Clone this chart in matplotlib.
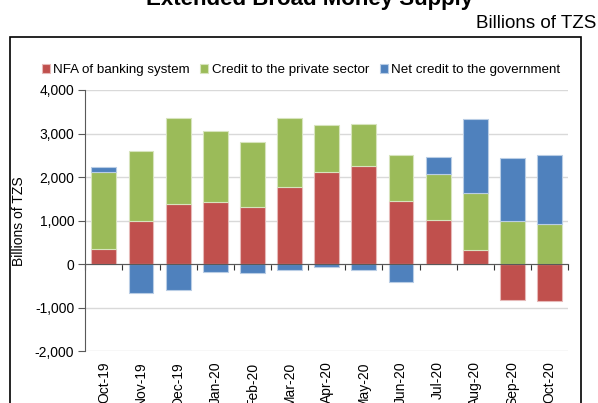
import matplotlib
matplotlib.use('Agg')
import matplotlib.pyplot as plt
import matplotlib.transforms as mtransforms
from matplotlib.patches import Rectangle
import numpy as np

plt.rcParams['font.family'] = ['Liberation Sans', 'DejaVu Sans']

months = ['Oct-19', 'Nov-19', 'Dec-19', 'Jan-20', 'Feb-20', 'Mar-20', 'Apr-20',
          'May-20', 'Jun-20', 'Jul-20', 'Aug-20', 'Sep-20', 'Oct-20']

# contributions in billions of TZS
nfa = [350, 995, 1385, 1430, 1315, 1765, 2110, 2250, 1450, 1015, 335, -825, -850]
private_credit = [1770, 1595, 1980, 1635, 1485, 1600, 1080, 970, 1050, 1050, 1295, 995, 930]
gov_credit = [105, -665, -600, -185, -205, -140, -70, -140, -415, 390, 1700, 1440, 1570]

series = [
    ('NFA of banking system', nfa, '#C0504D', '#E6B9B8'),
    ('Credit to the private sector', private_credit, '#9BBB59', '#D7E4BD'),
    ('Net credit to the government', gov_credit, '#4F81BD', '#B9CDE5'),
]

fig = plt.figure(figsize=(5.98, 4.03), dpi=100)
ax = fig.add_axes([0.1427, 0.1278, 0.8073, 0.6489])

x = np.arange(len(months))
pos_base = np.zeros(len(months))
neg_base = np.zeros(len(months))
for name, vals, color, edge in series:
    v = np.array(vals, dtype=float)
    bottom = np.where(v >= 0, pos_base, neg_base)
    ax.bar(x, v, width=0.67, bottom=bottom, color=color, edgecolor=edge,
           linewidth=0.8, label=name, zorder=3)
    pos_base += np.where(v >= 0, v, 0)
    neg_base += np.where(v < 0, v, 0)

ax.set_xlim(-0.5, len(months) - 0.5)
ax.set_ylim(-2000, 4000)
ax.set_yticks(range(-2000, 4001, 1000))
ax.set_yticklabels(['{:,}'.format(t) for t in range(-2000, 4001, 1000)], fontsize=10)
ax.yaxis.grid(True, color='#D9D9D9', linewidth=1, zorder=0)
ax.set_axisbelow(True)
ax.set_ylabel('Billions of TZS', fontsize=10, labelpad=6)

for s in ['top', 'right']:
    ax.spines[s].set_visible(False)
ax.spines['left'].set_color('#595959')
ax.spines['bottom'].set_position(('data', 0))
ax.spines['bottom'].set_color('#595959')
ax.spines['bottom'].set_zorder(4)
ax.tick_params(axis='y', direction='out', length=5, color='#595959', pad=3)

# category boundary ticks on the zero line, labels below the plot
ax.set_xticks(np.arange(-0.5, len(months), 1.0))
ax.set_xticklabels([])
ax.tick_params(axis='x', direction='out', length=4, color='#333333')
trans = mtransforms.blended_transform_factory(ax.transData, ax.transAxes)
for i, m in enumerate(months):
    ax.text(i, -0.038, m, transform=trans, rotation=90, ha='center', va='top',
            fontsize=10)

fig.legend(loc='center', bbox_to_anchor=(0.503, 0.826), ncol=3, frameon=False,
           fontsize=9.6, handlelength=0.6, handleheight=0.6, handletextpad=0.25,
           columnspacing=0.8)

fig.text(0.998, 0.93, 'Billions of TZS', ha='right', va='baseline', fontsize=13.5)
fig.text(0.518, 0.988, 'Extended Broad Money Supply', ha='center', va='baseline',
         fontsize=16, fontweight='bold')

fig.patches.append(Rectangle((0.0167, -0.05), 0.955, 0.958, transform=fig.transFigure,
                             fill=False, edgecolor='black', linewidth=1.2))

fig.savefig('out.png', dpi=100)
